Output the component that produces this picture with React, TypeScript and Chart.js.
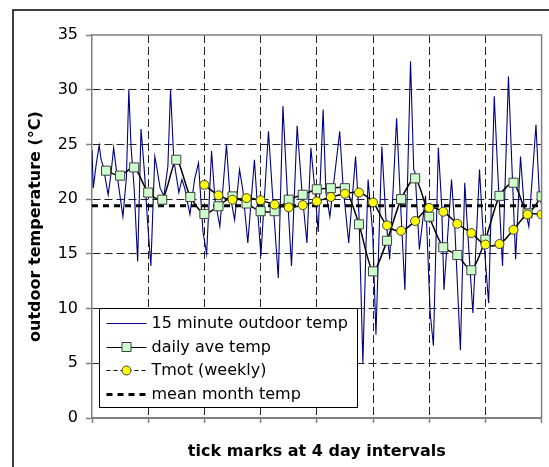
import React, { useEffect, useRef } from "react";
import { Chart, registerables } from "chart.js";

Chart.register(...registerables);

// ---- data ----
const yMin = 0;
const yMax = 35;
const yStep = 5;
const xMaxDay = 32;
const xStepDays = 4;

const seriesLabels = [
  "15 minute outdoor temp",
  "daily ave temp",
  "Tmot (weekly)",
  "mean month temp",
];

// 15 minute outdoor temperature (read peaks / troughs), day number and °C
const blueDays = [
  0, 0.09, 0.3, 0.51, 0.65, 0.8, 1.15, 1.35, 1.54, 1.73, 2.2, 2.45, 2.62, 2.78,
  3.0, 3.25, 3.49, 3.72, 3.95, 4.19, 4.47, 4.6, 4.85, 5.12, 5.4, 5.59, 5.82,
  6.18, 6.4, 6.6, 6.97, 7.3, 7.58, 7.9, 8.16, 8.51, 8.75, 9.1, 9.57, 9.8, 10.15,
  10.5, 10.73, 11.09, 11.56, 11.79, 12.02, 12.56, 12.84, 13.26, 13.59, 13.9,
  14.2, 14.6, 14.95, 15.3, 15.58, 15.88, 16.1, 16.45, 16.65, 16.93, 17.63,
  17.87, 18.27, 18.76, 19.0, 19.28, 19.5, 19.65, 19.98, 20.21, 20.63, 20.91,
  21.19, 21.68, 21.96, 22.27, 22.67, 22.9, 23.0, 23.3, 23.74, 24.07, 24.3,
  24.65, 24.89, 25.05, 25.59, 25.82, 26.22, 26.53, 26.76, 27.11, 27.58, 27.81,
  28.23, 28.63, 28.87, 29.22, 29.64, 29.87, 30.15, 30.5, 30.74, 31.09, 31.6,
  31.83, 32.0,
];
const blueTemps = [
  24.5, 21.0, 23.2, 24.9, 23.6, 23.0, 20.4, 22.3, 24.7, 22.7, 18.4, 22.0, 30.0,
  24.8, 21.0, 14.3, 26.4, 22.7, 18.0, 13.9, 23.9, 23.0, 21.0, 20.3, 23.0, 30.0,
  23.6, 20.6, 21.8, 21.0, 18.6, 21.8, 23.3, 17.0, 15.0, 24.4, 20.0, 17.5, 25.0,
  20.6, 18.1, 22.7, 20.9, 16.0, 23.6, 19.0, 14.8, 26.2, 20.6, 12.8, 28.5, 20.6,
  13.9, 26.7, 20.6, 16.0, 24.7, 20.6, 17.0, 28.2, 20.6, 18.4, 26.2, 21.2, 16.0,
  23.9, 18.7, 5.0, 15.7, 21.8, 16.9, 7.6, 24.8, 18.4, 14.5, 27.4, 19.6, 11.7,
  32.6, 22.7, 22.4, 15.4, 20.3, 9.6, 6.6, 24.7, 19.4, 11.7, 21.8, 17.5, 6.2,
  21.5, 16.6, 9.6, 22.7, 17.5, 10.5, 29.4, 22.7, 13.9, 31.2, 23.6, 14.5, 23.9,
  19.6, 17.5, 26.8, 20.6, 19.4,
];

const dailyDays = [
  1, 2, 3, 4, 5, 6, 7, 8, 9, 10, 11, 12, 13, 14, 15, 16, 17, 18, 19, 20, 21, 22,
  23, 24, 25, 26, 27, 28, 29, 30, 31, 32,
];
const dailyTemps = [
  22.6, 22.15, 22.9, 20.6, 19.95, 23.6, 20.2, 18.65, 19.35, 20.25, 19.6, 18.9,
  18.9, 19.95, 20.4, 20.9, 21.0, 21.0, 17.7, 13.4, 16.2, 20.0, 21.9, 18.4, 15.6,
  14.9, 13.5, 16.3, 20.3, 21.5, 18.7, 20.25,
];

const tmotDays = [
  8, 9, 10, 11, 12, 13, 14, 15, 16, 17, 18, 19, 20, 21, 22, 23, 24, 25, 26, 27,
  28, 29, 30, 31, 32,
];
const tmotTemps = [
  21.3, 20.35, 19.95, 20.1, 19.9, 19.5, 19.25, 19.45, 19.8, 20.2, 20.5, 20.6,
  19.7, 17.6, 17.1, 18.0, 19.2, 18.85, 17.75, 16.9, 15.85, 15.9, 17.2, 18.6,
  18.6,
];

const meanMonthTemp = 19.4;
const meanDays = [0, 32];

const FONT = "'DejaVu Sans', 'Liberation Sans', Arial, sans-serif";

const toXY = (xs: number[], ys: number[]) =>
  xs.map((x, i) => ({ x, y: ys[i] }));

const framePlugin = {
  id: "frame",
  beforeDraw(chart: any) {
    const ctx = chart.ctx;
    ctx.save();
    ctx.fillStyle = "#ffffff";
    ctx.fillRect(0, 0, chart.width, chart.height);
    ctx.strokeStyle = "#000000";
    ctx.lineWidth = 1.5;
    ctx.strokeRect(13, 10, chart.width + 50, chart.height + 50);
    ctx.restore();
  },
  afterDatasetsDraw(chart: any) {
    const { ctx, chartArea } = chart;
    ctx.save();
    ctx.strokeStyle = "#808080";
    ctx.lineWidth = 1.5;
    ctx.setLineDash([]);
    ctx.beginPath();
    ctx.moveTo(chartArea.left, chartArea.top);
    ctx.lineTo(chartArea.right, chartArea.top);
    ctx.lineTo(chartArea.right, chartArea.bottom);
    ctx.stroke();
    ctx.restore();
  },
  afterDraw(chart: any) {
    const { ctx, chartArea } = chart;
    const ds = chart.data.datasets;
    const bx = Math.round(chartArea.left + 7) + 0.5;
    const bw = 258;
    const bh = 99;
    const by = Math.round(chartArea.bottom - 11 - bh) + 0.5;
    ctx.save();
    ctx.fillStyle = "#ffffff";
    ctx.fillRect(bx, by, bw, bh);
    ctx.strokeStyle = "#000000";
    ctx.lineWidth = 1;
    ctx.setLineDash([]);
    ctx.strokeRect(bx, by, bw, bh);

    const x1 = bx + 7;
    const x2 = bx + 47;
    const xm = (x1 + x2) / 2;
    const tx = bx + 52;
    ctx.font = `16px ${FONT}`;
    ctx.textBaseline = "middle";
    ctx.textAlign = "left";
    ds.forEach((d: any, i: number) => {
      const y = by + 14.5 + i * 23.5;
      ctx.save();
      ctx.beginPath();
      ctx.strokeStyle = d.borderColor;
      if (i === 2) {
        ctx.lineWidth = 1;
        ctx.setLineDash([4, 3]);
      } else if (i === 3) {
        ctx.lineWidth = 3;
        ctx.setLineDash([6, 5]);
      } else {
        ctx.lineWidth = 1;
        ctx.setLineDash([]);
      }
      ctx.moveTo(x1, Math.round(y) + 0.5);
      ctx.lineTo(x2, Math.round(y) + 0.5);
      ctx.stroke();
      ctx.setLineDash([]);
      if (d.pointRadius > 0) {
        ctx.fillStyle = d.pointBackgroundColor;
        ctx.strokeStyle = d.pointBorderColor;
        ctx.lineWidth = 1;
        ctx.beginPath();
        if (d.pointStyle === "rect") {
          ctx.rect(xm - 4.5, y - 4, 9, 9);
        } else {
          ctx.arc(xm, y + 0.5, 4.5, 0, Math.PI * 2);
        }
        ctx.fill();
        ctx.stroke();
      }
      ctx.restore();
      ctx.fillStyle = "#000000";
      ctx.fillText(d.label, tx, y + 1);
    });
    ctx.restore();
  },
};

export default function App() {
  const ref = useRef<HTMLCanvasElement>(null);

  useEffect(() => {
    if (!ref.current) return;
    const chart = new Chart(ref.current, {
      type: "line",
      data: {
        datasets: [
          {
            label: seriesLabels[0],
            data: toXY(blueDays, blueTemps),
            borderColor: "#000080",
            borderWidth: 1.1,
            pointRadius: 0,
            tension: 0,
            order: 4,
          },
          {
            label: seriesLabels[1],
            data: toXY(dailyDays, dailyTemps),
            borderColor: "#000000",
            borderWidth: 1.5,
            pointStyle: "rect",
            pointRadius: 6.4,
            pointBackgroundColor: "#ccffcc",
            pointBorderColor: "#404040",
            pointBorderWidth: 1,
            tension: 0.25,
            order: 2,
          },
          {
            label: seriesLabels[2],
            data: toXY(tmotDays, tmotTemps),
            borderColor: "#000000",
            borderWidth: 1.5,
            pointStyle: "circle",
            pointRadius: 4.5,
            pointBackgroundColor: "#ffff00",
            pointBorderColor: "#404040",
            pointBorderWidth: 1,
            tension: 0.35,
            order: 1,
          },
          {
            label: seriesLabels[3],
            data: toXY(
              meanDays,
              meanDays.map(() => meanMonthTemp)
            ),
            borderColor: "#000000",
            borderWidth: 3,
            borderDash: [6, 5],
            pointRadius: 0,
            order: 3,
          },
        ] as any,
      },
      options: {
        animation: false,
        responsive: false,
        layout: { padding: { top: 35, right: 1, left: 0, bottom: 0 } },
        plugins: {
          legend: { display: false },
          tooltip: { enabled: false },
        },
        scales: {
          x: {
            type: "linear",
            min: 0,
            max: xMaxDay,
            afterFit: (s: any) => {
              s.height = 49;
            },
            ticks: {
              stepSize: xStepDays,
              autoSkip: false,
              callback: () => "",
            },
            grid: {
              color: (c: any) =>
                c.tick && (c.tick.value === 0 || c.tick.value === xMaxDay)
                  ? "rgba(0,0,0,0)"
                  : "#222222",
              lineWidth: 1,
              drawTicks: true,
              tickLength: 5,
              tickColor: "#808080",
              tickWidth: 1.5,
              tickBorderDash: [],
            },
            border: {
              display: true,
              color: "#808080",
              width: 2,
              dash: [8, 4],
            },
            title: {
              display: true,
              text: "tick marks at 4 day intervals",
              color: "#000000",
              font: { family: FONT, size: 16, weight: "bold" },
              padding: { top: 0, bottom: 6 },
            },
          },
          y: {
            type: "linear",
            min: yMin,
            max: yMax,
            afterFit: (s: any) => {
              s.width = 92;
            },
            ticks: {
              stepSize: yStep,
              padding: 8,
              color: "#000000",
              font: { family: FONT, size: 16 },
            },
            grid: {
              color: (c: any) =>
                c.tick && (c.tick.value === yMin || c.tick.value === yMax)
                  ? "rgba(0,0,0,0)"
                  : "#222222",
              lineWidth: 1,
              drawTicks: true,
              tickLength: 6,
              tickColor: "#808080",
              tickWidth: 1.5,
              tickBorderDash: [],
            },
            border: {
              display: true,
              color: "#808080",
              width: 1.5,
              dash: [8, 4],
            },
            title: {
              display: true,
              text: "outdoor temperature (°C)",
              color: "#000000",
              font: { family: FONT, size: 16, weight: "bold" },
              padding: { top: 26, bottom: 0 },
            },
          },
        },
      } as any,
      plugins: [framePlugin],
    });
    return () => chart.destroy();
  }, []);

  return (
    <div
      style={{
        position: "fixed",
        left: 0,
        top: 0,
        width: 549,
        height: 467,
        overflow: "hidden",
        background: "#ffffff",
      }}
    >
      <canvas
        ref={ref}
        width={549}
        height={467}
        style={{ display: "block", width: 549, height: 467 }}
      />
    </div>
  );
}
